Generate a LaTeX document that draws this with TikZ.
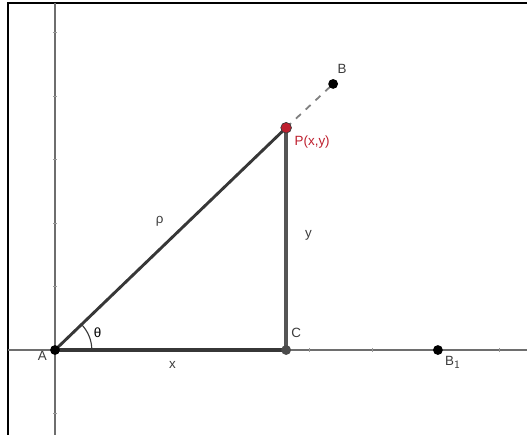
\documentclass[tikz,border=0pt]{standalone}
\usepackage{fontspec}
\setmainfont{Liberation Sans}
\usepackage{xcolor}
\usepackage{tikz}
\usetikzlibrary{quotes,angles,arrows.meta}
\definecolor{axisgray}{RGB}{110,110,110}
\definecolor{segdark}{RGB}{55,55,55}
\definecolor{segmid}{RGB}{85,85,85}
\definecolor{pointred}{RGB}{190,30,45}
\definecolor{labelgray}{RGB}{60,60,60}

\begin{document}
\begin{tikzpicture}[=>stealth,font=\fontsize{6}{7}\selectfont,
  dot/.style={circle,fill=black,inner sep=0pt,minimum size=4.4pt},
  lbl/.style={text=labelgray,inner sep=1pt}]
\useasboundingbox (-0.866,-1.323) rectangle (7.433,5.512);
% frame
\draw[line width=0.6pt](-0.74,-1.4)--(-0.74,5.465)--(7.6,5.465);
% axes
\draw[axisgray,line width=0.5pt](-0.74,0)--(7.6,0);
\draw[axisgray,line width=0.5pt](0,-1.4)--(0,5.465);
\foreach \t in {1,...,7} \draw[axisgray!70,line width=0.4pt](\t,-0.03)--(\t,0.03);
\foreach \t in {-1,1,2,3,4,5} \draw[axisgray!70,line width=0.4pt](-0.03,\t)--(0.03,\t);
\coordinate (A) at (0,0);
\coordinate (C) at (3.64,0);
\coordinate (P) at (3.64,3.5);
\coordinate (B) at (4.38,4.19);
\coordinate (B1) at (6.03,0);
% triangle
\draw[gray,dashed,line width=0.8pt](P)--(B);
\draw[segdark,line width=1.5pt](A)--(C);
\draw[segmid,line width=1.5pt](C)--(P);
\draw[segdark,line width=1.3pt](A)--(P);
\draw
pic[draw=segdark,line width=0.5pt,angle radius=0.58cm,"θ",angle eccentricity=1.25]{angle = C--A--P};
% points
\node[dot] (a) at (A) {};
\node[dot,fill=segdark!90] (c) at (C) {};
\node[dot,fill=pointred,draw=segdark,line width=0.3pt,minimum size=4.8pt] (p) at (P) {};
\node[dot] (b) at (B) {};
\node[dot] (b1) at (B1) {};
\draw(A)++(-0.2,-0.1)node[lbl]{A}
(1.85,-0.24)node[lbl]{x}
(1.65,2.02)node[lbl]{ρ}
(3.99,1.81)node[lbl]{y}
(3.8,0.27)node[lbl]{C}
(4.05,3.28)node[lbl,text=pointred]{P(x,y)}
(4.52,4.43)node[lbl]{B}
(6.27,-0.2)node[lbl]{B$_{\mathsf{1}}$};
\end{tikzpicture}
\end{document}
